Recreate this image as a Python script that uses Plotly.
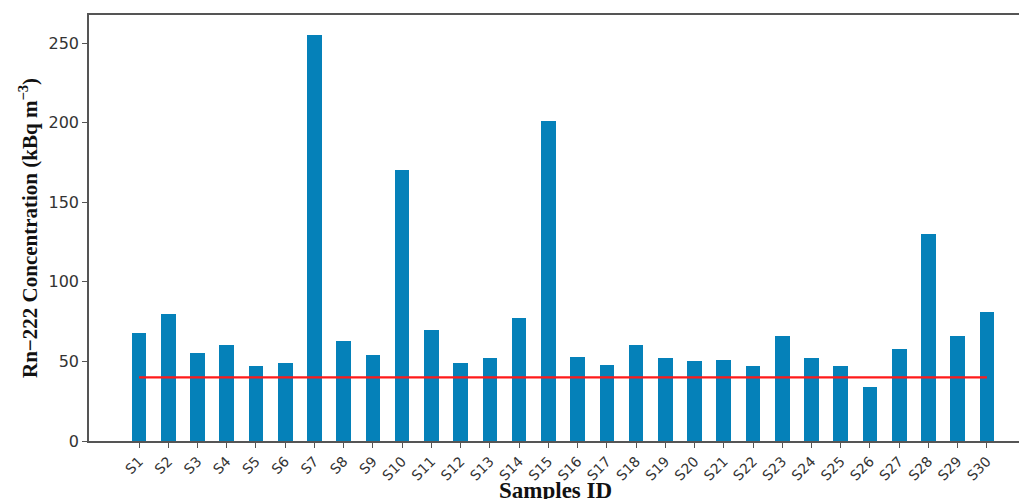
import plotly.graph_objects as go

samples = [f"S{i}" for i in range(1, 31)]
radon = [68, 80, 55, 60, 47, 49, 255, 63, 54, 170, 70, 49, 52, 77, 201,
         53, 48, 60, 52, 50, 51, 47, 66, 52, 47, 34, 58, 130, 66, 81]
limit_value = 40
limit = [limit_value] * len(samples)
y_ticks = [0, 50, 100, 150, 200, 250]

W, H = 1027, 499
# page body adds an 8px offset; margins compensate for it
L, R, T, B = 81, 8, 7, 66

fig = go.Figure()
fig.add_trace(go.Bar(x=samples, y=radon, width=0.5,
                     marker=dict(color="#0581b9", line=dict(width=0)),
                     showlegend=False))
fig.add_trace(go.Scatter(x=samples, y=limit, mode="lines",
                         line=dict(color="#ff1a1a", width=2.2),
                         showlegend=False))

fig.update_layout(
    width=W, height=H,
    margin=dict(l=L, r=R, t=T, b=B, autoexpand=False),
    paper_bgcolor="white", plot_bgcolor="white",
    bargap=0,
    xaxis=dict(
        type="category", range=[-1.71, 30.37], automargin=False,
        showline=True, linecolor="#555555", linewidth=1.5, mirror=True,
        ticks="outside", ticklen=5, tickcolor="#555555", tickwidth=1.2,
        tickangle=-45,
        tickfont=dict(family="DejaVu Sans", size=14, color="#333333"),
        showgrid=False, zeroline=False,
    ),
    yaxis=dict(
        range=[0, 267.6], tickvals=y_ticks, automargin=False,
        showline=True, linecolor="#555555", linewidth=1.5, mirror=False,
        ticks="outside", ticklen=5, tickcolor="#555555", tickwidth=1.2,
        tickfont=dict(family="DejaVu Sans", size=16, color="#333333"),
        showgrid=False, zeroline=False,
    ),
    annotations=[
        dict(text="<b>Samples ID</b>", xref="paper", yref="paper",
             x=0.497, y=-(482 - (H - B)) / (H - T - B), yanchor="middle",
             xanchor="center", showarrow=False,
             font=dict(family="Liberation Serif", size=23, color="#111111")),
        dict(text="<b>Rn−222 Concentration (kBq m<sup>−3</sup>)</b>", xref="paper", yref="paper",
             x=-(L - 20) / (W - L - R), y=0.5, xanchor="center", yanchor="middle",
             textangle=-90, showarrow=False,
             font=dict(family="Liberation Serif", size=21, color="#111111")),
    ],
)

fig.write_html("out.html")
